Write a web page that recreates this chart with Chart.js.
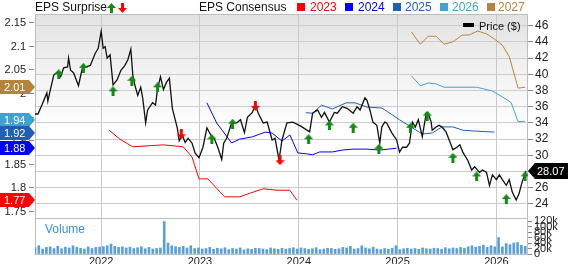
<!DOCTYPE html>
<html>
<head>
<meta charset="utf-8">
<script src="https://cdn.jsdelivr.net/npm/chart.js@4.4.0/dist/chart.umd.min.js"></script>
<style>
  body { margin: 0; background: #fff; font-family: "Liberation Sans", Arial, sans-serif; }
  #wrap { position: relative; width: 568px; height: 264px; overflow: hidden; }
  #bg { position: absolute; left: 35px; top: 14px; width: 493px; height: 204px;
        background: linear-gradient(to bottom, #e2e2e2 0%, #f3f3f3 30%, #ffffff 58%, #ffffff 100%); }
  #c { position: absolute; left: 0; top: 0; }
  .t { position: absolute; top: 0; font-size: 12px; line-height: 14px; white-space: nowrap; color: #111; }
  .sq { position: absolute; top: 3px; width: 8px; height: 8px; }
</style>
</head>
<body>
<div id="wrap">
  <div id="bg"></div>
  <canvas id="c" width="568" height="264"></canvas>
  <div class="t" style="left:35px">EPS Surprise</div>
  <div class="t" style="left:199px">EPS Consensus</div>
  <div class="sq" style="left:297px;background:#ff0000"></div>
  <div class="t" style="left:310px;color:#ff0000">2023</div>
  <div class="sq" style="left:345px;background:#0000ff"></div>
  <div class="t" style="left:358px;color:#0000ff">2024</div>
  <div class="sq" style="left:393px;background:#1f5fb8"></div>
  <div class="t" style="left:405px;color:#1f5fb8">2025</div>
  <div class="sq" style="left:440px;background:#3ea3d3"></div>
  <div class="t" style="left:452px;color:#3ea3d3">2026</div>
  <div class="sq" style="left:487px;background:#b5843a"></div>
  <div class="t" style="left:498px;color:#b5843a">2027</div>
  <div style="position:absolute;left:463px;top:23px;width:11px;height:4px;background:#000"></div>
  <div class="t" style="left:479px;top:19px;font-size:11px">Price ($)</div>
  <div class="t" style="left:45px;top:222px;color:#3b8fd2">Volume</div>
</div>
<script>
// price (x = decimal year)
const priceX = [2021.33, 2021.36, 2021.40, 2021.45, 2021.46, 2021.48, 2021.52, 2021.56, 2021.59, 2021.62,
  2021.66, 2021.67, 2021.69, 2021.72, 2021.77, 2021.81, 2021.84, 2021.89, 2021.94, 2021.97,
  2022.00, 2022.02, 2022.04, 2022.06, 2022.09, 2022.12, 2022.16, 2022.20, 2022.24, 2022.27,
  2022.30, 2022.32, 2022.34, 2022.37, 2022.40, 2022.42, 2022.45, 2022.47, 2022.52, 2022.55,
  2022.57, 2022.60, 2022.63, 2022.66, 2022.69, 2022.72, 2022.77, 2022.79, 2022.82, 2022.85,
  2022.88, 2022.92, 2022.95, 2022.99, 2023.03, 2023.07, 2023.11, 2023.15, 2023.18, 2023.22,
  2023.24, 2023.27, 2023.32, 2023.37, 2023.41, 2023.45, 2023.48, 2023.53, 2023.56, 2023.59,
  2023.64, 2023.68, 2023.73, 2023.76, 2023.80, 2023.83, 2023.88, 2023.94, 2024.02, 2024.11,
  2024.14, 2024.19, 2024.23, 2024.26, 2024.31, 2024.36, 2024.39, 2024.44, 2024.49, 2024.55,
  2024.59, 2024.62, 2024.67, 2024.69, 2024.72, 2024.75, 2024.79, 2024.82, 2024.84, 2024.87,
  2024.89, 2024.94, 2024.99, 2025.02, 2025.05, 2025.09, 2025.12, 2025.15, 2025.18, 2025.21,
  2025.25, 2025.29, 2025.31, 2025.34, 2025.35, 2025.39, 2025.42, 2025.45, 2025.49, 2025.56,
  2025.60, 2025.63, 2025.66, 2025.71, 2025.75, 2025.78, 2025.83, 2025.86, 2025.90, 2025.93,
  2025.96, 2026.00, 2026.03, 2026.06, 2026.10, 2026.13, 2026.16, 2026.20, 2026.23, 2026.26, 2026.30];
const priceY = [35.1, 35.1, 36.2, 37.7, 36.7, 37.8, 39.9, 40.3, 39.7, 40.8,
  40.9, 42.0, 40.5, 40.2, 38.6, 40.8, 40.9, 41.1, 42.6, 43.2,
  45.3, 43.2, 43.4, 42.0, 42.4, 38.7, 39.3, 40.5, 41.1, 41.8,
  43.1, 39.9, 38.7, 37.4, 38.4, 37.1, 34.0, 35.6, 36.5, 36.2,
  38.2, 39.7, 38.1, 39.0, 39.5, 35.8, 33.4, 31.8, 32.5, 31.6,
  32.1, 31.5, 30.3, 29.7, 31.0, 33.4, 32.5, 31.9, 31.0, 29.5,
  31.5, 32.1, 34.0, 34.0, 34.4, 32.8, 34.7, 35.3, 36.2, 35.2,
  34.0, 34.1, 31.9, 32.1, 29.4, 31.9, 34.0, 34.1, 33.6, 32.9,
  35.2, 35.6, 34.7, 35.3, 34.1, 35.3, 35.2, 36.0, 35.8, 35.2,
  36.0, 35.6, 37.1, 36.8, 35.6, 34.1, 33.7, 31.5, 33.5, 34.1,
  34.0, 32.8, 31.9, 30.4, 31.0, 31.0, 31.5, 34.1, 33.5, 34.4,
  32.3, 35.2, 35.2, 34.1, 33.1, 33.5, 33.7, 33.5, 32.9, 30.7,
  31.0, 31.3, 30.4, 29.4, 28.2, 28.6, 27.9, 28.2, 27.9, 26.3,
  27.6, 27.0, 27.6, 27.0, 26.3, 27.0, 25.5, 24.5, 25.3, 26.7, 28.07];

// EPS consensus by fiscal year
const eps2023X = [2022.08, 2022.19, 2022.27, 2022.32, 2022.63, 2022.83, 2022.92, 2022.99, 2023.08, 2023.25, 2023.40, 2023.51, 2023.64, 2023.78, 2023.91, 2023.98];
const eps2023Y = [1.921, 1.902, 1.892, 1.886, 1.890, 1.886, 1.864, 1.818, 1.818, 1.780, 1.780, 1.788, 1.797, 1.794, 1.794, 1.773];
const eps2024X = [2023.07, 2023.17, 2023.32, 2023.40, 2023.53, 2023.66, 2023.73, 2023.83, 2023.91, 2023.99, 2024.08, 2024.14, 2024.21, 2024.34, 2024.44, 2024.55, 2024.69, 2024.82, 2024.99];
const eps2024Y = [1.979, 1.936, 1.894, 1.902, 1.907, 1.917, 1.915, 1.898, 1.911, 1.873, 1.871, 1.869, 1.875, 1.875, 1.879, 1.881, 1.881, 1.879, 1.883];
const eps2025X = [2024.07, 2024.14, 2024.23, 2024.34, 2024.48, 2024.57, 2024.69, 2024.84, 2024.90, 2025.02, 2025.12, 2025.25, 2025.35, 2025.45, 2025.56, 2025.66, 2025.80, 2025.98];
const eps2025Y = [1.958, 1.957, 1.974, 1.966, 1.979, 1.979, 1.970, 1.968, 1.960, 1.943, 1.930, 1.913, 1.915, 1.928, 1.928, 1.921, 1.919, 1.917];
const eps2026X = [2025.14, 2025.23, 2025.31, 2025.39, 2025.47, 2025.63, 2025.80, 2025.96, 2026.11, 2026.15, 2026.22, 2026.29];
const eps2026Y = [2.036, 2.015, 2.021, 2.019, 2.012, 2.012, 2.012, 2.004, 1.985, 1.979, 1.939, 1.940];
const eps2027X = [2025.14, 2025.23, 2025.31, 2025.39, 2025.47, 2025.56, 2025.65, 2025.73, 2025.81, 2025.90, 2025.98, 2026.06, 2026.13, 2026.22, 2026.29];
const eps2027Y = [2.129, 2.103, 2.120, 2.120, 2.103, 2.108, 2.122, 2.123, 2.131, 2.125, 2.114, 2.101, 2.077, 2.010, 2.012];

// EPS surprise markers (placed on the price line)
const beatX = [2021.57, 2021.82, 2022.12, 2022.31, 2022.57, 2023.12, 2023.33, 2024.10, 2024.31, 2024.55, 2024.81, 2025.13, 2025.30, 2025.56, 2025.80, 2026.10, 2026.29];
const beatY = [40.0, 40.8, 37.9, 39.2, 38.4, 32.0, 33.9, 32.0, 33.7, 33.4, 30.8, 33.4, 34.9, 29.7, 27.4, 24.6, 27.4];
const missX = [2022.81, 2023.56, 2023.81];
const missY = [32.6, 36.1, 29.4];

// volume in thousands, one bar every two weeks from volStart
const volStart = 2021.33;
const volume = [22, 30, 18, 24, 26, 20, 28, 19, 25, 22, 30, 24, 21, 18, 26, 20, 24,
  25, 27, 30, 36, 28, 24, 26, 22, 25, 20, 23, 26, 19, 24, 18, 20, 22,
  118, 40, 30, 27, 24, 28, 22, 30, 20,
  22, 18, 20, 24, 17, 21, 19, 23, 16, 20, 18, 22, 15, 19, 17, 21, 20, 18, 16, 22, 19, 17, 21, 18, 20, 23,
  18, 22, 20, 17, 19, 23, 16, 18, 21, 20, 17, 19, 24, 22, 28, 18, 20, 30, 22, 19, 25, 18, 16, 20, 17, 21,
  30, 16, 19, 21, 18, 20, 17, 22, 19, 18, 21, 20, 17, 23, 19, 22, 20, 24, 21, 26, 30, 25, 28, 32, 24, 30, 26,
  60, 26, 38, 34, 40, 42, 32, 28];

const yearTicks = [2022, 2023, 2024, 2025, 2026];
const epsTicks = [1.75, 1.8, 1.85, 1.9, 1.95, 2, 2.05, 2.1, 2.15];
const priceTicks = [24, 26, 28, 30, 32, 34, 36, 38, 40, 42, 44, 46];
const volTicks = [0, 20, 40, 60, 80, 100, 120];

const pts = (xs, ys) => xs.map((x, i) => ({ x: x, y: ys[i] }));

function arrowImg(color, up) {
  const cv = document.createElement('canvas');
  cv.width = 9; cv.height = 10;
  const g = cv.getContext('2d');
  if (!up) { g.translate(0, 10); g.scale(1, -1); }
  g.fillStyle = color;
  g.beginPath();
  g.moveTo(0, 5); g.lineTo(4.5, 0); g.lineTo(9, 5);
  g.closePath(); g.fill();
  g.fillRect(3, 5, 3, 5);
  return cv;
}
const upArrow = arrowImg('#138a13', true);
const downArrow = arrowImg('#ff0000', false);

const font = '"Liberation Sans", Arial, sans-serif';

const decor = {
  id: 'decor',
  beforeDatasetsDraw(chart) {
    const { ctx, chartArea: a } = chart;
    const sep = chart.scales.price.bottom;
    ctx.save();
    ctx.strokeStyle = '#bdbdbd';
    ctx.lineWidth = 1;
    ctx.beginPath();
    ctx.moveTo(a.left, Math.round(sep) + 0.5);
    ctx.lineTo(a.right, Math.round(sep) + 0.5);
    ctx.stroke();
    ctx.strokeRect(a.left + 0.5, a.top + 0.5, a.right - a.left - 1, a.bottom - a.top);
    ctx.restore();
  },
  afterDraw(chart) {
    const { ctx } = chart;
    const eps = chart.scales.eps, price = chart.scales.price;
    ctx.save();
    // left EPS axis labels and tick marks
    ctx.font = '11px ' + font;
    ctx.textBaseline = 'middle';
    ctx.textAlign = 'right';
    ctx.strokeStyle = '#888';
    ctx.lineWidth = 1;
    epsTicks.forEach(v => {
      const y = Math.round(eps.getPixelForValue(v));
      ctx.beginPath();
      ctx.moveTo(29, y + 0.5); ctx.lineTo(34, y + 0.5);
      ctx.stroke();
      ctx.fillStyle = '#222';
      ctx.fillText(String(+v.toFixed(2)), 26, y + 1);
    });
    // legend arrows
    ctx.drawImage(upArrow, 107, 3);
    ctx.drawImage(downArrow, 118, 3);
    // left value tags
    const tags = [];
    for (let i = 1; i <= 5; i++) {
      const ds = chart.data.datasets[i];
      const v = ds.data[ds.data.length - 1].y;
      tags.push({ y: eps.getPixelForValue(v), text: v.toFixed(2), color: ds.borderColor });
    }
    tags.sort((p, q) => p.y - q.y);
    for (let k = 0; k < 4; k++) {
      for (let i = 1; i < tags.length; i++) {
        const d = tags[i].y - tags[i - 1].y;
        if (d < 13) { tags[i].y += (13 - d) / 2; tags[i - 1].y -= (13 - d) / 2; }
      }
    }
    ctx.textAlign = 'left';
    tags.forEach(t => {
      const y = Math.round(t.y);
      ctx.fillStyle = t.color;
      ctx.beginPath();
      ctx.moveTo(0, y - 7); ctx.lineTo(29, y - 7); ctx.lineTo(35, y);
      ctx.lineTo(29, y + 7); ctx.lineTo(0, y + 7); ctx.closePath();
      ctx.fill();
      ctx.fillStyle = '#fff';
      ctx.fillText(t.text, 4, y + 0.5);
    });
    // right price tag
    const last = priceY[priceY.length - 1];
    const py = Math.round(price.getPixelForValue(last));
    ctx.fillStyle = '#000';
    ctx.beginPath();
    ctx.moveTo(528, py); ctx.lineTo(535, py - 8); ctx.lineTo(568, py - 8);
    ctx.lineTo(568, py + 8); ctx.lineTo(535, py + 8); ctx.closePath();
    ctx.fill();
    ctx.fillStyle = '#fff';
    ctx.fillText(last.toFixed(2), 537, py + 0.5);
    ctx.restore();
  }
};

const lineDs = (label, xs, ys, color, order) => ({
  type: 'line', label, data: pts(xs, ys), yAxisID: 'eps', borderColor: color,
  borderWidth: 1, pointRadius: 0, tension: 0, order
});

new Chart(document.getElementById('c'), {
  data: {
    datasets: [
      { type: 'line', label: 'Price ($)', data: pts(priceX, priceY), yAxisID: 'price', borderColor: '#111',
        borderWidth: 1.3, pointRadius: 0, tension: 0, order: 1 },
      lineDs('2023', eps2023X, eps2023Y, '#ff0000', 2),
      lineDs('2024', eps2024X, eps2024Y, '#0000ff', 2),
      lineDs('2025', eps2025X, eps2025Y, '#1f5fb8', 2),
      lineDs('2026', eps2026X, eps2026Y, '#3ea3d3', 2),
      lineDs('2027', eps2027X, eps2027Y, '#b5843a', 2),
      { type: 'line', label: 'beat', data: pts(beatX, beatY), yAxisID: 'price', showLine: false,
        pointStyle: upArrow, pointRadius: 5, order: 0 },
      { type: 'line', label: 'miss', data: pts(missX, missY), yAxisID: 'price', showLine: false,
        pointStyle: downArrow, pointRadius: 5, order: 0 },
      { type: 'bar', label: 'Volume', data: volume.map((v, i) => ({ x: volStart + i / 26, y: v })),
        yAxisID: 'vol', backgroundColor: '#5b9fd8', barThickness: 2, order: 3 }
    ]
  },
  options: {
    responsive: false,
    animation: false,
    devicePixelRatio: 1,
    layout: { padding: { top: 14, left: 0, right: 0, bottom: 0 } },
    plugins: { legend: { display: false }, tooltip: { enabled: false } },
    scales: {
      x: {
        type: 'linear', min: 2021.33, max: 2026.32, position: 'bottom', offset: false,
        afterBuildTicks: s => { s.ticks = yearTicks.map(v => ({ value: v })); },
        afterFit: s => { s.height = 10; },
        ticks: { callback: v => String(v), font: { family: font, size: 11 }, color: '#222', padding: 1, maxRotation: 0 },
        grid: { color: '#c8c8c8', drawTicks: false, offset: false },
        border: { display: false }
      },
      eps: {
        type: 'linear', position: 'left', min: 1.659, max: 2.167,
        afterFit: s => { s.width = 35; },
        ticks: { display: false },
        grid: { display: false },
        border: { display: false }
      },
      price: {
        type: 'linear', position: 'right', stack: 'right', stackWeight: 204, min: 22.27, max: 47.44,
        afterBuildTicks: s => { s.ticks = priceTicks.map(v => ({ value: v })); },
        afterFit: s => { s.width = 40; },
        ticks: { font: { family: font, size: 12 }, color: '#222', padding: 2, autoSkip: false },
        grid: { color: '#cdcdcd', tickLength: 5, tickColor: '#888' },
        border: { display: false }
      },
      vol: {
        type: 'linear', position: 'right', stack: 'right', stackWeight: 36, min: 0, max: 131,
        afterBuildTicks: s => { s.ticks = volTicks.map(v => ({ value: v })); },
        afterFit: s => { s.width = 40; },
        ticks: { callback: v => v === 0 ? '0' : v + 'k', font: { family: font, size: 11 }, color: '#222', padding: 2, autoSkip: false },
        grid: { drawOnChartArea: false, tickLength: 4, tickColor: '#888' },
        border: { display: false }
      }
    }
  },
  plugins: [decor]
});
</script>
</body>
</html>
